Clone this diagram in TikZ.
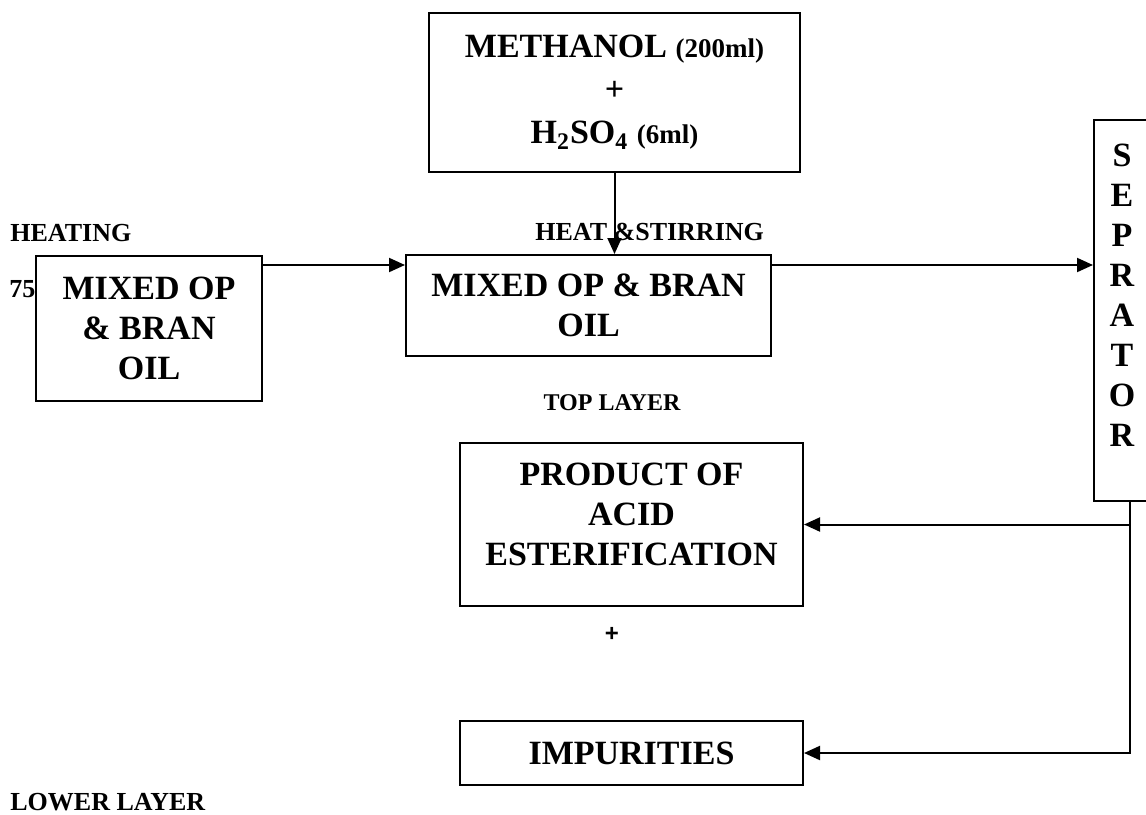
\documentclass[tikz,border=0pt]{standalone}
\usepackage{fontspec}
\setmainfont{Liberation Serif}
\newfontfamily\plusfont{Liberation Sans}
\usetikzlibrary{arrows.meta}

\begin{document}
\begin{tikzpicture}[x=0.5pt,y=-0.5pt,
        stepbox/.style={draw, line width=1pt, inner sep=0pt, align=center,
                        font=\bfseries\fontsize{17}{20}\selectfont},
        lbl/.style={inner sep=0pt, font=\bfseries\fontsize{13}{15}\selectfont},
        flow/.style={-{Triangle[length=8pt,width=7pt]}, line width=1pt}]
                \clip (0,0) rectangle (1146,814);
                \node[stepbox, minimum width=185.5pt, minimum height=79.5pt,
                      font=\bfseries\fontsize{17}{21.5}\selectfont] (meth) at (614.5,92.5)
                      {METHANOL {\fontsize{13.5}{15}\selectfont(200ml)}\\+\\H\textsubscript{2}SO\textsubscript{4} {\fontsize{13.5}{15}\selectfont(6ml)}};
                \node[stepbox, minimum width=113pt, minimum height=72.5pt] (mix1) at (149,328.5) {MIXED OP\\\& BRAN\\OIL};
                \node[stepbox, minimum width=182.5pt, minimum height=50.5pt] (mix2) at (588.5,305.5) {MIXED OP \& BRAN\\OIL};
                \node[stepbox, minimum width=171.5pt, minimum height=81.5pt] (prod) at (631.5,524.5) {PRODUCT OF\\ACID\\ESTERIFICATION\\[-10pt]};
                \node[stepbox, minimum width=171.5pt, minimum height=32pt] (imp) at (631.5,753) {IMPURITIES};
                \node[draw, line width=1pt, minimum width=36pt, minimum height=190.5pt] (sep) at (1130,310.5) {};
                \node[stepbox, draw=none] (septext) at (1122,295.5) {S\\E\\P\\R\\A\\T\\O\\R};
                \node[lbl, anchor=base west] (heating) at (10,241) {HEATING};
                \node[lbl, anchor=base west] (temp) at (9,297) {75};
                \node[lbl, anchor=base west] (stir) at (535,240) {HEAT \&STIRRING};
                \node[lbl, font=\bfseries\fontsize{12}{14}\selectfont] (top) at (612,403) {TOP LAYER};
                \node[lbl, font=\plusfont\bfseries\fontsize{12}{14}\selectfont] (plus) at (612,634) {+};
                \node[lbl, anchor=base west] (lower) at (10,810) {LOWER LAYER};
                \coordinate (feed) at ([yshift=-5pt]mix1.north east);
                \draw[flow] (meth.south) -- (meth.south |- mix2.north);
                \draw[flow] (feed) -- (feed -| mix2.west);
                \draw[flow] (feed -| mix2.east) -- (feed -| sep.west);
                \draw[flow] (sep.south) |- (imp.east);
                \draw[flow] (sep.south |- prod.east) -- (prod.east);
            \end{tikzpicture}
\end{document}
